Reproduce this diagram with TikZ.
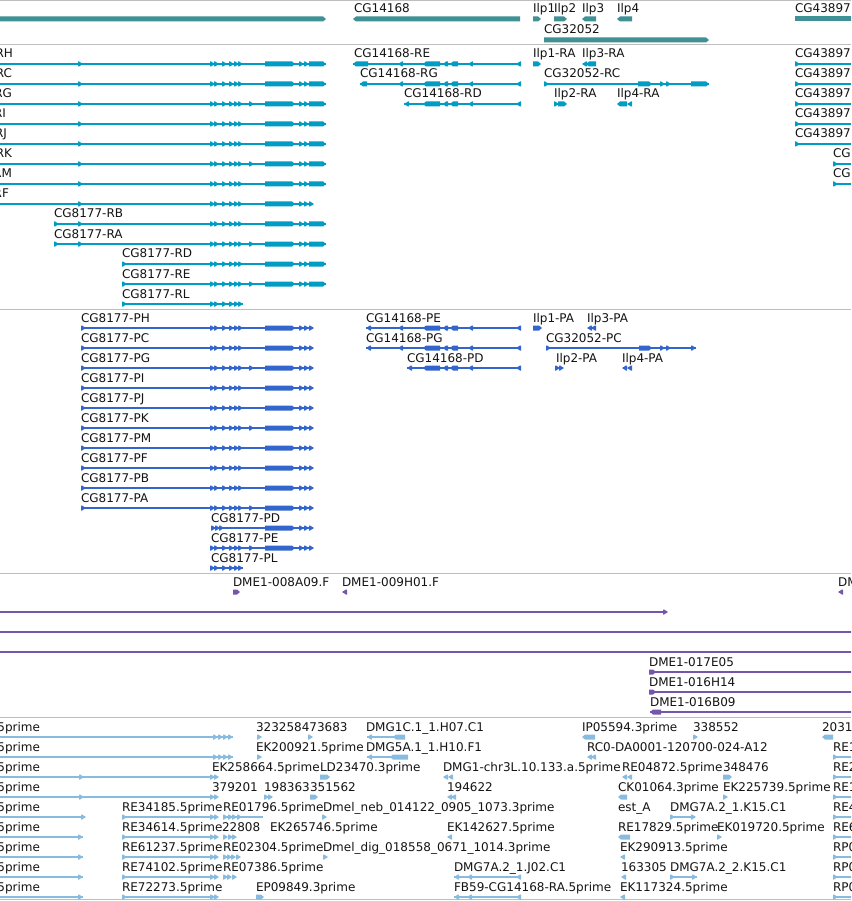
\documentclass[tikz,border=0pt]{standalone}
\usepackage{fontspec}
\setmainfont{DejaVu Sans}
\definecolor{gcol}{RGB}{64,145,150}
\definecolor{tcol}{RGB}{0,156,196}
\definecolor{pcol}{RGB}{51,102,204}
\definecolor{mcol}{RGB}{118,86,170}
\definecolor{ecol}{RGB}{136,187,224}
\definecolor{sepc}{RGB}{190,190,190}
\definecolor{txt}{RGB}{20,20,20}
% forward exon x1..x2 at row y
\newcommand\gfx[3]{\fill ({#1},{#3-2.5}) -- ({#2-3},{#3-2.5}) -- ({#2},{#3}) -- ({#2-3},{#3+2.5}) -- ({#1},{#3+2.5}) -- cycle;}
% forward small triangle at x
\newcommand\gft[2]{\fill ({#1},{#2-2.5}) -- ({#1+1},{#2-2.5}) -- ({#1+5},{#2}) -- ({#1+1},{#2+2.5}) -- ({#1},{#2+2.5}) -- cycle;}
% backward exon x1..x2
\newcommand\gbx[3]{\fill ({#2},{#3-2.5}) -- ({#1+3},{#3-2.5}) -- ({#1},{#3}) -- ({#1+3},{#3+2.5}) -- ({#2},{#3+2.5}) -- cycle;}
% backward small triangle with tip at x
\newcommand\gbt[2]{\fill ({#1+5},{#2-2.5}) -- ({#1+4},{#2-2.5}) -- ({#1},{#2}) -- ({#1+4},{#2+2.5}) -- ({#1+5},{#2+2.5}) -- cycle;}
\newcommand\gln[3]{\draw ({#1},{#3}) -- ({#2},{#3});}
\newcommand\glab[3]{\node[lab] at ({#1},{#2-6}) {#3};}
\newcommand\glabe[3]{\node[lab,anchor=base east] at ({#1},{#2-6}) {#3};}
\newcommand\clA[1]{\gft{210}{#1}\gft{214}{#1}\gft{222}{#1}\gft{229}{#1}\gft{234}{#1}\gft{238}{#1}}
\newcommand\tailR[1]{\gfx{265}{295}{#1}\gft{299}{#1}\gft{304}{#1}\gfx{309}{326}{#1}}
\newcommand\tailP[1]{\gfx{265}{295}{#1}\gft{299}{#1}\gft{304}{#1}\gft{309}{#1}}
\newcommand\revC[1]{\gbx{423}{440}{#1}\gbx{443}{448}{#1}\gbx{450}{458}{#1}\gbt{468}{#1}\gbt{516}{#1}}
\begin{document}
\begin{tikzpicture}[x=1pt,y=-1pt,line width=1.2pt,
  lab/.style={anchor=base west,inner sep=0pt,outer sep=0pt,font=\fontsize{12}{14}\selectfont,text=txt}]
\useasboundingbox (0,0) rectangle (851,901);
\clip (0,0) rectangle (851,901);
\fill[white] (0,0) rectangle (851,901);
% separators
\foreach \s in {0.5,44.5,309,573,717,899.5}{\draw[sepc,line width=1pt] (0,\s) -- (851,\s);}

% ---------------- gene track
\begin{scope}[color=gcol]
\gfx{-5}{326}{19}
\gbx{353}{520}{19}
\gfx{533}{541}{19}
\gfx{554}{567}{19}
\gbx{582}{596}{19}
\gbx{617}{632}{19}
\fill (795,16.5) rectangle (856,21.5);
\gfx{544}{709}{40}
\end{scope}
\glab{354}{19}{CG14168}
\glab{533}{19}{Ilp1}
\glab{554}{19}{Ilp2}
\glab{582}{19}{Ilp3}
\glab{617}{19}{Ilp4}
\glab{795}{19}{CG43897}
\glab{544}{40}{CG32052}

% ---------------- transcript track
\begin{scope}[color=tcol]
\foreach \y/\n/\e in {64/RH/13,84/RC/12,104/RG/12,124/RI/6,144/RJ/7,164/RK/12,184/RM/12}{
  \glabe{\e}{\y}{CG8177-\n}
  \gln{-5}{326}{\y}\gft{78}{\y}\clA{\y}\tailR{\y}}
\gft{249}{104}\gft{249}{164}
\glabe{9}{204}{CG8177-RF}
\gln{-5}{313}{204}\gft{78}{204}\clA{204}\tailP{204}
\foreach \y/\n in {224/RB,244/RA}{
  \glab{54}{\y}{CG8177-\n}
  \gln{54}{326}{\y}\gft{54}{\y}\gft{78}{\y}\clA{\y}\tailR{\y}}
\gft{249}{244}
\foreach \y/\n in {264/RD,284/RE}{
  \glab{122}{\y}{CG8177-\n}
  \gln{122}{326}{\y}\gft{122}{\y}\clA{\y}\tailR{\y}}
\gft{249}{284}
\glab{122}{304}{CG8177-RL}
\gln{122}{243}{304}\gft{122}{304}\clA{304}
% CG14168
\glab{354}{64}{CG14168-RE}
\gln{353}{521}{64}\gbx{353}{368}{64}\gbt{398}{64}\revC{64}
\glab{360}{84}{CG14168-RG}
\gln{360}{521}{84}\gbx{360}{367}{84}\gbt{398}{84}\revC{84}
\glab{404}{104}{CG14168-RD}
\gln{404}{521}{104}\gbt{404}{104}\revC{104}
% Ilp / CG32052
\glab{533}{64}{Ilp1-RA}\gfx{533}{541}{64}
\glab{582}{64}{Ilp3-RA}\gbt{582}{64}\gbx{586}{596}{64}
\glab{544}{84}{CG32052-RC}
\gln{544}{709}{84}\gft{544}{84}\gfx{638}{652}{84}\gft{660}{84}\gft{666}{84}\gfx{691}{709}{84}
\glab{554}{104}{Ilp2-RA}\gft{554}{104}\gfx{558}{567}{104}
\glab{617}{104}{Ilp4-RA}\gbx{617}{627}{104}\gbt{627}{104}
% CG43897
\foreach \y in {64,84,104,124,144}{\glab{795}{\y}{CG43897}\gln{795}{856}{\y}\gft{795}{\y}}
\foreach \y in {164,184}{\glab{833}{\y}{CG}\gln{833}{856}{\y}\gft{833}{\y}}
\end{scope}

% ---------------- protein track
\begin{scope}[color=pcol]
\foreach \y/\n in {328/PH,348/PC,368/PG,388/PI,408/PJ,428/PK,448/PM,468/PF,488/PB,508/PA}{
  \glab{81}{\y}{CG8177-\n}
  \gln{81}{313}{\y}\gft{81}{\y}\clA{\y}\tailP{\y}}
\gft{249}{368}\gft{249}{428}\gft{249}{508}
\glab{211}{528}{CG8177-PD}
\gln{211}{313}{528}\gft{211}{528}\gft{215}{528}\gft{219}{528}\tailP{528}
\glab{211}{548}{CG8177-PE}
\gln{211}{313}{548}\clA{548}\gft{249}{548}\tailP{548}
\glab{211}{568}{CG8177-PL}
\gln{211}{243}{568}\clA{568}
\glab{366}{328}{CG14168-PE}
\gln{366}{521}{328}\gbt{366}{328}\gbt{398}{328}\revC{328}
\glab{366}{348}{CG14168-PG}
\gln{366}{521}{348}\gbt{366}{348}\gbt{398}{348}\revC{348}
\glab{407}{368}{CG14168-PD}
\gln{407}{521}{368}\gbt{407}{368}\revC{368}
\glab{533}{328}{Ilp1-PA}\gfx{533}{542}{328}
\glab{587}{328}{Ilp3-PA}\gbt{587}{328}\gbt{591}{328}
\glab{546}{348}{CG32052-PC}
\gln{546}{696}{348}\gft{546}{348}\gfx{639}{652}{348}\gft{660}{348}\gft{666}{348}\gft{691}{348}
\glab{556}{368}{Ilp2-PA}\gft{555}{368}\gft{559}{368}
\glab{622}{368}{Ilp4-PA}\gbt{622}{368}\gbt{627}{368}
\end{scope}

% ---------------- purple track
\begin{scope}[color=mcol]
\glab{233}{592}{DME1-008A09.F}\gfx{233}{240}{592}
\glab{342}{592}{DME1-009H01.F}\gbt{342}{592}
\glab{838}{592}{DM}\gbt{838}{592}
\gln{-5}{666}{612}\gft{663}{612}
\gln{-5}{856}{632}
\gln{-5}{856}{652}
\glab{649}{672}{DME1-017E05}\gln{649}{856}{672}\gfx{649}{656}{672}
\glab{649}{692}{DME1-016H14}\gln{649}{856}{692}\gfx{649}{656}{692}
\glab{650}{712}{DME1-016B09}\gln{650}{856}{712}\gbx{650}{661}{712}
\end{scope}

% ---------------- EST track
\begin{scope}[color=ecol]
\foreach \y in {737,757,777,797,817,837,857,877,897}{\glabe{40}{\y}{5prime}}
\foreach \y in {737,757}{\gln{-5}{233}{\y}\gft{213}{\y}\gft{218}{\y}\gft{223}{\y}\gft{228}{\y}}
\foreach \y in {777,797}{\gln{-5}{218}{\y}\gft{79}{\y}\gft{210}{\y}\gft{214}{\y}}
\gln{-5}{85}{817}\gft{81}{817}
\foreach \y in {837,857,877,897}{\gln{-5}{83}{\y}\gft{78}{\y}}
% row 1
\glab{256}{737}{323258473683}\gft{257}{737}\gft{308}{737}
\glab{366}{737}{DMG1C.1\_1.H07.C1}\gln{367}{405}{737}\gbt{367}{737}\gbx{393}{405}{737}
\glab{582}{737}{IP05594.3prime}\gbx{582}{595}{737}
\glab{693}{737}{338552}\gft{693}{737}
\glab{822}{737}{2031}\gbx{822}{833}{737}
% row 2
\glab{256}{757}{EK200921.5prime}\gft{257}{757}
\glab{366}{757}{DMG5A.1\_1.H10.F1}\gln{367}{408}{757}\gbt{367}{757}\gbx{390}{408}{757}
\glab{587}{757}{RC0-DA0001-120700-024-A12}\gbt{587}{757}\gbt{591}{757}
% row 3
\glab{212}{777}{EK258664.5prime}
\glab{320}{777}{LD23470.3prime}\gfx{320}{330}{777}
\glab{443}{777}{DMG1-chr3L.10.133.a.5prime}\gbt{443}{777}\gbt{448}{777}
\glab{622}{777}{RE04872.5prime}\gbt{622}{777}\gbt{627}{777}
\glab{723}{777}{348476}\gfx{723}{732}{777}
% row 4
\glab{212}{797}{379201}
\glab{264}{797}{198363}\gft{264}{797}\gft{268}{797}
\glab{310}{797}{351562}\gfx{310}{318}{797}
\glab{447}{797}{194622}\gbt{447}{797}\gbt{451}{797}
\glab{618}{797}{CK01064.3prime}\gbx{618}{627}{797}
\glab{723}{797}{EK225739.5prime}\gft{723}{797}
% row 5
\glab{122}{817}{RE34185.5prime}\gln{122}{218}{817}\gft{122}{817}\gft{210}{817}\gft{214}{817}
\glab{223}{817}{RE01796.5prime}\gln{223}{263}{817}\gft{223}{817}\gft{228}{817}\gft{232}{817}\gft{237}{817}
\glab{323}{817}{Dmel\_neb\_014122\_0905\_1073.3prime}\gft{322}{817}
\glab{618}{817}{est\_A}
\glab{670}{817}{DMG7A.2\_1.K15.C1}\gln{670}{695}{817}\gft{670}{817}\gft{691}{817}
% row 6
\glab{122}{837}{RE34614.5prime}\gln{122}{218}{837}\gft{122}{837}\gft{210}{837}\gft{214}{837}
\glab{222}{837}{22808}\gft{223}{837}\gft{228}{837}\gft{232}{837}
\glab{270}{837}{EK265746.5prime}
\glab{447}{837}{EK142627.5prime}\gbt{447}{837}
\glab{618}{837}{RE17829.5prime}\gbx{618}{630}{837}
\glab{717}{837}{EK019720.5prime}\gft{717}{837}
% row 7
\glab{122}{857}{RE61237.5prime}\gln{122}{218}{857}\gft{122}{857}\gft{210}{857}\gft{214}{857}
\glab{223}{857}{RE02304.5prime}\gft{223}{857}\gft{227}{857}\gft{231}{857}\gft{236}{857}
\glab{323}{857}{Dmel\_dig\_018558\_0671\_1014.3prime}\gft{323}{857}
\glab{620}{857}{EK290913.5prime}\gbt{620}{857}
% row 8
\glab{122}{877}{RE74102.5prime}\gln{122}{218}{877}\gft{122}{877}\gft{210}{877}\gft{214}{877}
\glab{223}{877}{RE07386.5prime}\gft{223}{877}\gft{227}{877}\gft{232}{877}
\glab{454}{877}{DMG7A.2\_1.J02.C1}\gln{454}{521}{877}\gbt{454}{877}\gbt{467}{877}\gbt{516}{877}
\glab{621}{877}{163305}\gbt{621}{877}
\glab{670}{877}{DMG7A.2\_2.K15.C1}\gln{670}{697}{877}\gft{670}{877}\gft{692}{877}
% row 9
\glab{122}{897}{RE72273.5prime}\gln{122}{218}{897}\gft{122}{897}\gft{210}{897}\gft{214}{897}
\glab{256}{897}{EP09849.3prime}\gfx{256}{264}{897}
\glab{454}{897}{FB59-CG14168-RA.5prime}\gln{454}{521}{897}\gbt{454}{897}\gbt{467}{897}\gbt{516}{897}
\glab{620}{897}{EK117324.5prime}\gbt{620}{897}
% right edge
\foreach \y/\n in {757/RE1,777/RE2,797/RE1,817/RE4,837/RE6,857/RP0,877/RP0,897/RP0}{
  \glab{833}{\y}{\n}\gln{833}{856}{\y}\gft{833}{\y}}
\end{scope}
\end{tikzpicture}
\end{document}
